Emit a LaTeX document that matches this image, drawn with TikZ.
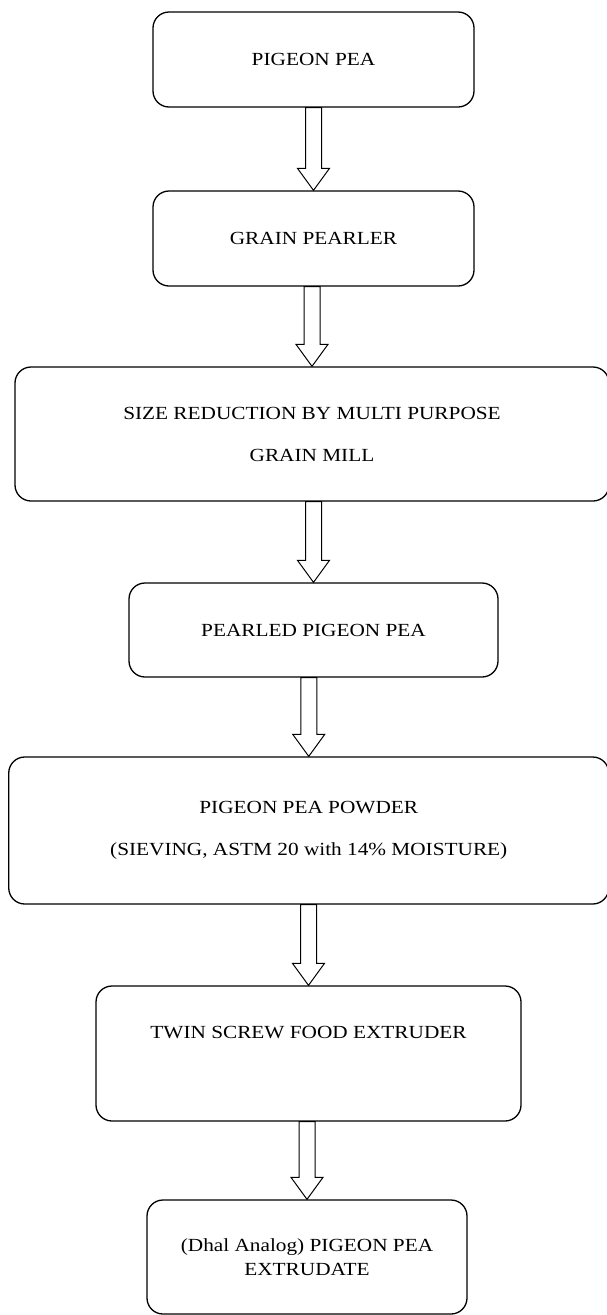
\documentclass[tikz,border=0pt]{standalone}
\usepackage{fontspec}
\setmainfont{Liberation Serif}[FakeStretch=1.15]
\usetikzlibrary{calc}

\begin{document}
\begin{tikzpicture}[
		x=1pt, y=-1pt,
		every node/.style={font=\fontsize{18.5pt}{24pt}\selectfont, align=center},
		kasten/.style={draw, line width=1.3pt, rounded corners=16pt, inner sep=0pt},
		pfeil/.style={draw, line width=1pt, fill=white}
		]
		\useasboundingbox (0,0) rectangle (606,1315);
		
		% Kästen
		\node [kasten, minimum width=321pt, minimum height=95pt] (pea) at (313.5,59.5) {PIGEON PEA};
		\node [kasten, minimum width=321pt, minimum height=95pt] (pearler) at (313.5,238.5) {GRAIN PEARLER};
		\node [kasten, minimum width=594pt, minimum height=134pt] (mill) at (312,434) {SIZE REDUCTION BY MULTI PURPOSE\\[18pt] GRAIN MILL};
		\node [kasten, minimum width=369pt, minimum height=94pt] (pearled) at (313.5,630) {PEARLED PIGEON PEA};
		\node [kasten, minimum width=600pt, minimum height=147pt] (powder) at (308.75,830.5) {PIGEON PEA POWDER\\[18pt] (SIEVING, ASTM 20 with 14\% MOISTURE)};
		\node [kasten, minimum width=425pt, minimum height=135pt] (extruder) at (308.5,1053.5) {TWIN SCREW FOOD EXTRUDER\\[18pt] \mbox{}};
		\node [kasten, minimum width=320pt, minimum height=114pt] (extrudate) at (307,1257) {(Dhal Analog) PIGEON PEA\\ EXTRUDATE};
		
		% Pfeile
		\foreach \von/\nach in {pea/pearler, pearler/mill, mill/pearled, pearled/powder, powder/extruder, extruder/extrudate}
		\draw [pfeil] ($(\von.south -| \nach.north)+(-8,0)$) -- ($(\nach.north)+(-8,-22)$) -- ($(\nach.north)+(-16,-22)$) -- (\nach.north) -- ($(\nach.north)+(16,-22)$) -- ($(\nach.north)+(8,-22)$) -- ($(\von.south -| \nach.north)+(8,0)$) -- cycle;
		
	\end{tikzpicture}
\end{document}
